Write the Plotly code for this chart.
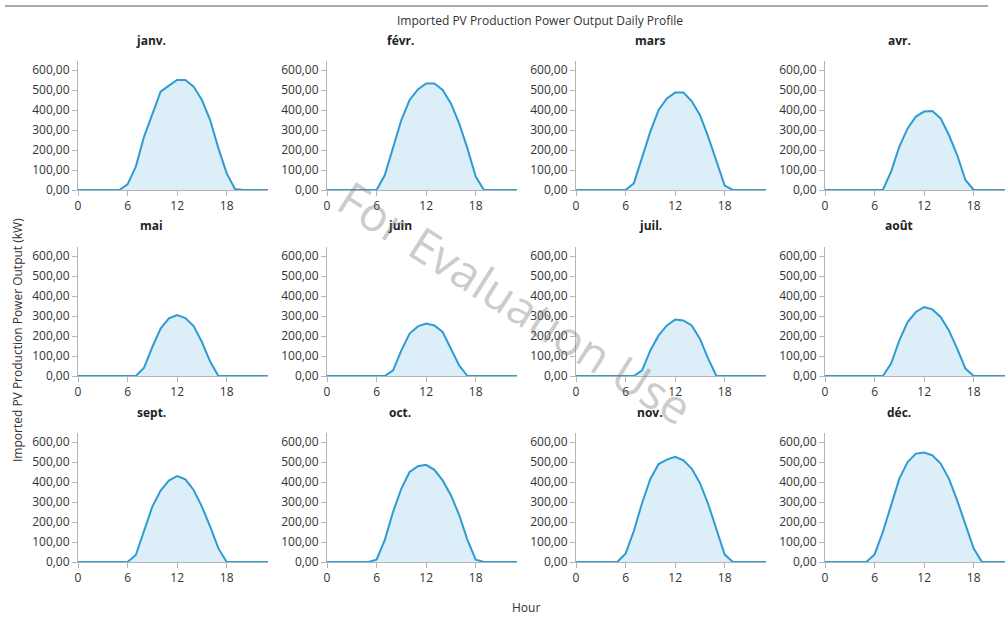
import plotly.graph_objects as go

HOURS = list(range(24))
MONTHS = ["janv.", "févr.", "mars", "avr.", "mai", "juin",
          "juil.", "août", "sept.", "oct.", "nov.", "déc."]

janv = [0,0,0,0,0,0,28,117,267,383,492,522,550,550,517,450,350,208,83,5,0,0,0,0]
fevr = [0,0,0,0,0,0,0,75,217,350,450,503,533,533,500,433,333,208,67,0,0,0,0,0]
mars = [0,0,0,0,0,0,0,33,167,292,400,458,487,487,445,375,267,142,22,0,0,0,0,0]
avr  = [0,0,0,0,0,0,0,0,92,217,308,367,392,395,358,275,175,50,0,0,0,0,0,0]
mai  = [0,0,0,0,0,0,0,0,42,145,237,288,305,290,250,170,72,0,0,0,0,0,0,0]
juin = [0,0,0,0,0,0,0,0,28,128,212,248,262,253,220,137,53,0,0,0,0,0,0,0]
juil = [0,0,0,0,0,0,0,0,28,128,203,253,282,278,253,187,87,0,0,0,0,0,0,0]
aout = [0,0,0,0,0,0,0,0,62,178,270,320,345,333,295,228,137,37,0,0,0,0,0,0]
sept = [0,0,0,0,0,0,0,35,160,277,357,407,430,413,360,277,177,68,0,0,0,0,0,0]
octo = [0,0,0,0,0,0,12,111,251,367,450,479,486,461,408,334,235,111,12,0,0,0,0,0]
nov  = [0,0,0,0,0,0,42,155,295,415,490,512,526,508,467,395,290,160,37,0,0,0,0,0]
dec  = [0,0,0,0,0,0,38,150,283,417,500,542,547,533,492,417,308,183,67,0,0,0,0,0]
SERIES = [janv, fevr, mars, avr, mai, juin, juil, aout, sept, octo, nov, dec]

X_TICKS = [0, 6, 12, 18]
Y_TICKS = [0, 100, 200, 300, 400, 500, 600]

W, H = 1005, 617
FONT = "Open Sans"
LINE = "#2f9bd3"
FILL = "rgba(47,155,211,0.17)"

col_px = [(78, 268), (327, 517), (576, 766), (825, 1005)]
row_px = [(61, 190), (247, 376), (433, 562)]
title_x = [151, 400, 650, 899]
title_y = [41, 226, 412]
X_MAX = 23
PX_PER_H = 190 / X_MAX

fig = go.Figure()
layout = dict(
    width=W, height=H,
    margin=dict(l=0, r=0, t=0, b=0, autoexpand=False),
    paper_bgcolor="white", plot_bgcolor="white",
    showlegend=False,
    separators=",.",
    font=dict(family=FONT, size=12, color="#333333"),
)
annotations = []
for i, (name, vals) in enumerate(zip(MONTHS, SERIES)):
    r, c = divmod(i, 4)
    n = "" if i == 0 else str(i + 1)
    fig.add_trace(go.Scatter(
        x=HOURS, y=vals, mode="lines", fill="tozeroy",
        line=dict(color=LINE, width=2), fillcolor=FILL,
        xaxis="x" + n, yaxis="y" + n, hoverinfo="x+y", name=name,
    ))
    x0, x1 = col_px[c]
    y0, y1 = row_px[r]
    xmax = (x1 - x0) / PX_PER_H
    layout["xaxis" + n] = dict(
        domain=[x0 / W, x1 / W], anchor="y" + n, range=[0, xmax],
        tickvals=X_TICKS, ticks="outside", ticklen=5, tickcolor="#b5b5b5",
        showline=True, linecolor="#b5b5b5", linewidth=1,
        showgrid=False, zeroline=False, tickfont=dict(size=12, color="#333333"),
    )
    layout["yaxis" + n] = dict(
        domain=[1 - y1 / H, 1 - y0 / H], anchor="x" + n, range=[0, 645],
        tickvals=Y_TICKS, tickformat=".2f", ticks="outside", ticklen=5,
        tickcolor="#b5b5b5", showline=True, linecolor="#b5b5b5", linewidth=1,
        showgrid=False, zeroline=False, tickfont=dict(size=12, color="#333333"),
    )
    annotations.append(dict(
        text="<b>" + name + "</b>", x=title_x[c] / W, y=1 - title_y[r] / H,
        xref="paper", yref="paper", xanchor="center", yanchor="middle",
        showarrow=False, font=dict(size=12, color="#222222"),
    ))

annotations += [
    dict(text="Imported PV Production Power Output Daily Profile",
         x=540 / W, y=1 - 20 / H, xref="paper", yref="paper",
         xanchor="center", yanchor="middle", showarrow=False,
         font=dict(size=12, color="#333333")),
    dict(text="Imported PV Production Power Output (kW)",
         x=17 / W, y=1 - 340 / H, xref="paper", yref="paper",
         xanchor="center", yanchor="middle", textangle=-90, showarrow=False,
         font=dict(size=12, color="#333333")),
    dict(text="Hour", x=526 / W, y=1 - 607 / H, xref="paper", yref="paper",
         xanchor="center", yanchor="middle", showarrow=False,
         font=dict(size=12, color="#333333")),
    dict(text="For Evaluation Use", x=515 / W, y=1 - 302 / H,
         xref="paper", yref="paper", xanchor="center", yanchor="middle",
         textangle=32.5, showarrow=False,
         font=dict(size=47, color="rgba(120,120,120,0.40)", family=FONT)),
]
layout["annotations"] = annotations
layout["shapes"] = [dict(type="line", xref="paper", yref="paper",
                         x0=5 / W, x1=988 / W, y0=1 - 6 / H, y1=1 - 6 / H,
                         line=dict(color="#555555", width=1))]
fig.update_layout(**layout)

POST = """
var b=document.body, h=document.documentElement;
b.style.margin='0'; b.style.padding='0'; b.style.overflow='hidden';
h.style.overflow='hidden';
"""
fig.write_html("out.html", config={"displayModeBar": False}, post_script=POST)
